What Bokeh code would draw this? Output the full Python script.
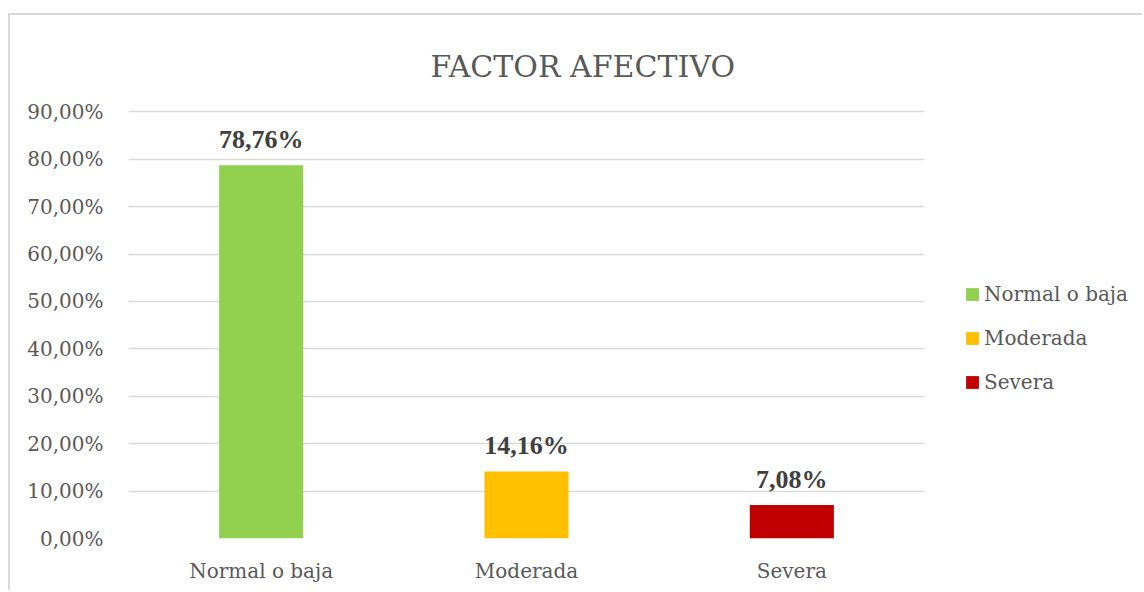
from bokeh.plotting import figure
from bokeh.layouts import row
from bokeh.models import (FixedTicker, CustomJSTickFormatter, ColumnDataSource,
                          LabelSet, Legend, LegendItem)
from bokeh.embed import file_html
from bokeh.resources import INLINE

categories = ["Normal o baja", "Moderada", "Severa"]
values = [78.76, 14.16, 7.08]
colors = ["#92D050", "#FFC000", "#C00000"]
value_labels = ["78,76%", "14,16%", "7,08%"]
y_ticks = [0, 10, 20, 30, 40, 50, 60, 70, 80, 90]
title_text = "FACTOR AFECTIVO"

FONT = "DejaVu Serif"
TXT = "#595959"
GRID = "#D9D9D9"

src = ColumnDataSource(dict(cat=categories, val=values, col=colors, lab=value_labels))

# main chart
p = figure(x_range=categories, y_range=(0, 90.5), width=920, height=577,
           output_backend="svg", toolbar_location=None,
           min_border_left=118, min_border_right=6, min_border_top=94, min_border_bottom=54)
p.margin = (13, 0, 0, 8)
p.styles = {"border-left": "2px solid #D9D9D9", "border-top": "2px solid #D9D9D9"}
p.outline_line_color = None
p.background_fill_color = "white"
p.border_fill_color = "white"

r = p.vbar(x="cat", top="val", width=0.317, fill_color="col", line_color=None, source=src)

p.yaxis.ticker = FixedTicker(ticks=y_ticks)
p.yaxis.formatter = CustomJSTickFormatter(code="return tick.toFixed(2).replace('.', ',') + '%';")
for ax in (p.xaxis, p.yaxis):
    ax.axis_line_color = None
    ax.major_tick_line_color = None
    ax.minor_tick_line_color = None
    ax.major_label_text_font = FONT
    ax.major_label_text_font_size = "20px"
    ax.major_label_text_color = TXT
p.yaxis.major_label_standoff = 19
p.xaxis.major_label_standoff = 14
p.xgrid.grid_line_color = None
p.ygrid.grid_line_color = GRID
p.ygrid.grid_line_width = 1.5

labels = LabelSet(x="cat", y="val", text="lab", source=src, text_align="center",
                  text_baseline="alphabetic", y_offset=17, text_font=FONT,
                  text_font_size="26px", text_font_style="bold", text_color="#404040")
p.add_layout(labels)

p.title.text = title_text
p.title.align = "left"
p.title.offset = 302
p.title.standoff = 52
p.title.text_font = FONT
p.title.text_font_size = "30px"
p.title.text_font_style = "normal"
p.title.text_color = TXT

# legend panel (its bar renderer is hidden so that only the legend shows)
q = figure(x_range=categories, y_range=(0, 90.5), width=214, height=577,
           output_backend="svg", toolbar_location=None,
           min_border_left=0, min_border_right=0, min_border_top=0, min_border_bottom=0)
q.margin = (13, 0, 0, 0)
q.styles = {"border-top": "2px solid #D9D9D9"}
q.axis.visible = False
q.grid.grid_line_color = None
q.outline_line_color = None
q.border_fill_color = "white"
rq = q.vbar(x="cat", top="val", width=0.317, fill_color="col", line_color=None, source=src)
rq.visible = False

legend = Legend(items=[LegendItem(label=c, renderers=[rq], index=i) for i, c in enumerate(categories)],
                location=(36, 144), orientation="vertical",
                glyph_width=16, glyph_height=16, label_standoff=4, spacing=20,
                padding=0, margin=0, border_line_color=None, background_fill_alpha=0,
                inactive_fill_alpha=0,
                label_text_font=FONT, label_text_font_size="20px", label_text_color=TXT)
q.add_layout(legend)

layout = row(p, q, spacing=0)
open("out.html", "w").write(file_html(layout, INLINE))
